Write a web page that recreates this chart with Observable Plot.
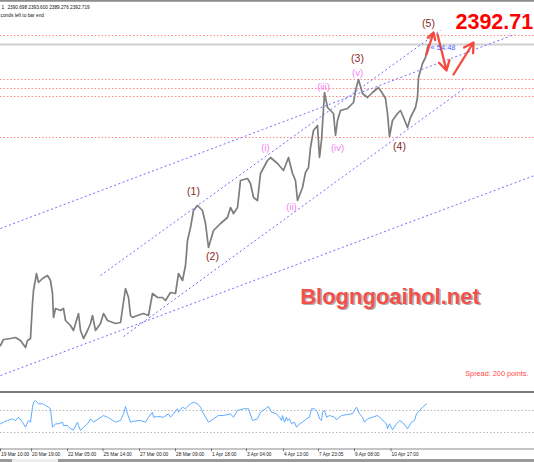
<!DOCTYPE html>
<html><head><meta charset="utf-8">
<script src="https://cdn.jsdelivr.net/npm/d3@7"></script>
<script src="https://cdn.jsdelivr.net/npm/@observablehq/plot@0.6"></script>
<style>
body{margin:0;background:#fff;}
#wrap{position:relative;width:534px;height:462px;overflow:hidden;background:#fff;font-family:"Liberation Sans",Arial,sans-serif;}
#main{position:absolute;left:0;top:0;}
#ind{position:absolute;left:0;top:393px;}
#sep{position:absolute;left:0;top:391px;width:534px;height:2px;background:#7a7a7a;}
#bot{position:absolute;left:0;top:459px;width:534px;height:3px;background:#9a9a9a;}
#tab{position:absolute;left:12px;top:459px;width:46px;height:3px;background:#ececec;}
svg{display:block;overflow:visible;}
</style></head>
<body>
<div id="wrap"><div id="main"></div><div id="sep"></div><div id="ind"></div><div id="bot"></div><div id="tab"></div></div>
<script>
// ---- price series (H1 bars, bar index / price) ----
const priceBars = [0,3,10,15,20,25,27,30,32,33,36,38,42,47,50,52,53,55,60,63,65,70,73,78,80,83,87,90,92,95,100,103,107,115,120,125,128,130,132,137,143,148,152,157,162,165,170,175,178,182,185,187,190,193,197,202,205,208,213,220,227,230,233,237,240,247,250,253,257,260,267,270,277,283,288,292,295,297,302,305,308,310,313,317,319,321,324,327,333,335,337,340,347,353,355,358,362,367,372,378,382,385,387,389,392,397,400,403,407,410,415,417,418,422,425,427,428];
const priceValues = [2152.0,2156.8,2157.6,2158.4,2156.0,2150.4,2156.0,2157.6,2185.6,2196.0,2209.6,2202.4,2205.6,2208.0,2204.0,2193.6,2174.4,2181.6,2180.0,2181.6,2172.0,2168.0,2164.0,2177.6,2164.0,2157.6,2164.0,2169.6,2176.0,2164.0,2169.6,2177.6,2172.0,2169.6,2170.4,2197.6,2190.4,2176.0,2174.4,2176.0,2177.6,2176.0,2193.6,2190.4,2190.4,2188.0,2194.4,2193.6,2209.6,2204.0,2216.0,2236.0,2246.4,2260.0,2264.0,2260.0,2249.6,2230.4,2244.0,2249.6,2254.4,2262.4,2257.6,2262.4,2284.0,2285.6,2281.6,2270.4,2268.0,2289.6,2300.0,2302.4,2297.6,2292.0,2302.4,2289.6,2284.0,2268.0,2278.4,2290.4,2294.4,2310.4,2324.0,2328.0,2302.4,2316.0,2354.4,2342.4,2337.6,2320.0,2332.0,2340.0,2341.6,2346.4,2356.0,2364.8,2353.6,2350.4,2354.4,2358.4,2353.6,2349.6,2337.6,2319.2,2332.0,2337.6,2340.0,2334.4,2326.4,2334.4,2342.4,2350.4,2366.4,2377.6,2382.4,2390.4,2392.8];
const bidPrice = 2392.72;
const levelPrices = [2400.0, 2364.8, 2357.6, 2351.2, 2318.4];

// ---- channel lines ----
const chStartBar = [0, 100, 123, 0];
const chStartPrice = [2245.6, 2208.0, 2159.2, 2128.0];
const chEndBar = [514, 440, 465, 534];
const chEndPrice = [2400.8, 2404.0, 2358.4, 2288.0];

// ---- wave labels ----
const waveText = ["(1)","(2)","(3)","(4)","(5)"];
const waveBar = [193,212,357,399,428];
const wavePrice = [2275.2,2223.2,2381.6,2311.2,2409.6];
const subText = ["(i)","(ii)","(iii)","(iv)","(v)"];
const subBar = [265,291,323,337,357];
const subPrice = [2310.4,2263.2,2359.2,2310.4,2370.4];

// ---- projected path arrows ----
const arrFromBar = [426,437,453];
const arrFromPrice = [2384.8,2400.8,2368.8];
const arrToBar = [433,446,473];
const arrToPrice = [2402.4,2372.0,2394.4];

// ---- oscillator ----
const rsiBars = [0,3,7,12,15,18,22,25,28,30,32,33,35,38,42,45,48,50,52,55,58,62,63,67,70,73,77,78,80,83,87,90,93,98,103,107,110,115,120,123,125,127,130,133,140,145,148,152,153,157,163,168,170,173,177,178,182,185,190,193,197,200,203,208,213,218,223,230,233,237,243,248,252,257,260,265,268,271,276,279,281,282,284,286,287,289,291,294,296,299,302,306,309,311,314,317,319,321,322,324,326,329,334,336,341,347,352,356,359,362,364,367,372,377,381,384,386,387,389,392,396,399,402,406,407,411,414,416,419,422,426];
const rsiValues = [45.8,48.7,51.8,54.9,51.8,57.8,48.7,39.6,51.8,48.7,76,85.1,88.2,82.2,82.2,79.1,76,73.1,39.6,45.8,45.8,48.7,42.7,42.7,36.7,34.9,48.7,42.7,33.6,39.6,45.8,54.9,48.7,54.9,60.9,57.8,54.9,48.7,51.8,64,77.3,64,48.7,50.5,51.8,48.7,57.8,66.9,57.8,59.1,57.8,64,57.8,64,73.1,66.9,76,73.1,82.2,85.1,82.2,76,64,48.7,54.9,60.9,60.9,64,57.8,70,73.1,73.1,51.8,54.9,66.9,73.1,77.3,66.9,64,57.8,51.8,60.9,48.7,57.8,51.8,54.9,45.8,48.7,39.6,45.8,48.7,54.9,57.8,73.1,73.1,66.9,54.9,51.8,66.9,70,57.8,60.9,57.8,53.1,60.9,62.7,64,76,64,57.8,48.7,54.9,57.8,60.9,54.9,48.7,45.8,36.7,45.8,34.9,45.8,51.8,48.7,39.6,36.7,48.7,51.8,64,70,76,82.2];
const rsiLevels = [70, 30];

// ---- time axis ----
const tickBars = [0,31,67,102.5,139,175,211,246,283,318,354,390.5];
const tickLabels = ["19 Mar 10:00","20 Mar 19:00","22 Mar 05:00","25 Mar 14:00","27 Mar 00:00","28 Mar 09:00","1 Apr 18:00","3 Apr 04:00","4 Apr 13:00","7 Apr 23:05","9 Apr 08:00","10 Apr 17:00"];

// ---- texts ----
const ohlcText = "2390.698 2393.600 2389.276 2392.719";
const barEndText = "conds left to bar end";
const bigPriceText = "2392.71";
const timerText = "« 54:48";
const watermarkText = "Blogngoaihol.net";
const spreadText = "Spread: 200 points.";

const FONT = "Liberation Sans, Arial, sans-serif";
const channels = chStartBar.map((b,i)=>({b1:b,p1:chStartPrice[i],b2:chEndBar[i],p2:chEndPrice[i]}));
const arrows = arrFromBar.map((b,i)=>({b1:b,p1:arrFromPrice[i],b2:arrToBar[i],p2:arrToPrice[i]}));

const main = Plot.plot({
  width:534, height:392, margin:0,
  x:{domain:[0,534], axis:null},
  y:{domain:[2114.4,2428], axis:null},
  style:{background:"transparent", fontFamily:FONT, overflow:"visible"},
  marks:[
    Plot.ruleY([2428],{stroke:"#8c8c8c",strokeWidth:2.5}),
    Plot.ruleY(levelPrices,{stroke:"#ff8a8a",strokeWidth:1,strokeDasharray:"1.5,2"}),
    Plot.ruleY([bidPrice],{stroke:"#cfcfcf",strokeWidth:2}),
    Plot.link(channels,{x1:"b1",y1:"p1",x2:"b2",y2:"p2",stroke:"#6e6eff",strokeWidth:1,strokeDasharray:"2,2.5"}),
    Plot.line(priceBars,{x:d=>d,y:(d,i)=>priceValues[i],stroke:"#7d7d7d",strokeWidth:1.7}),
    Plot.text(waveText,{x:(d,i)=>waveBar[i],y:(d,i)=>wavePrice[i],text:d=>d,fill:"#8b1f1f",fontSize:10.5}),
    Plot.text(subText,{x:(d,i)=>subBar[i],y:(d,i)=>subPrice[i],text:d=>d,fill:"#f57cf5",fontSize:9.5}),
    Plot.arrow(arrows,{x1:"b1",y1:"p1",x2:"b2",y2:"p2",stroke:"#f54a3e",strokeWidth:2.3,headLength:7}),
    Plot.text([timerText],{x:430,y:bidPrice,text:d=>d,textAnchor:"start",dy:3,fill:"#4a5cff",fontSize:7.5}),
    Plot.text(["1"],{frameAnchor:"top-left",dx:1,dy:5,text:d=>d,textAnchor:"start",fontSize:4.8,fill:"#111"}),
    Plot.text([ohlcText],{frameAnchor:"top-left",dx:7,dy:5,text:d=>d,textAnchor:"start",fontSize:4.7,fill:"#111"}),
    Plot.text([barEndText],{frameAnchor:"top-left",dx:0,dy:13.3,text:d=>d,textAnchor:"start",fontSize:4.8,fill:"#111"}),
    Plot.text([bigPriceText],{frameAnchor:"top-left",dx:455,dy:13.5,text:d=>d,textAnchor:"start",fontSize:21.5,fontWeight:"bold",fill:"#ff0000"}),
    Plot.text([watermarkText],{frameAnchor:"top-left",dx:391,dy:289,text:d=>d,textAnchor:"middle",fontSize:22,fontWeight:"bold",fill:"#8a8a8a",fillOpacity:0.7}),
    Plot.text([watermarkText],{frameAnchor:"top-left",dx:389.5,dy:287.5,text:d=>d,textAnchor:"middle",fontSize:22,fontWeight:"bold",fill:"#f2504a"}),
    Plot.text([spreadText],{frameAnchor:"top-left",dx:528,dy:370,text:d=>d,textAnchor:"end",fontSize:7.3,fill:"#ff4a4a"})
  ]
});
document.getElementById("main").appendChild(main);

const ind = Plot.plot({
  width:534, height:69, marginTop:0.5, marginBottom:13.5, marginLeft:0, marginRight:0,
  x:{domain:[0,534], axis:null},
  y:{domain:[0,100], axis:null},
  style:{background:"transparent", fontFamily:FONT, overflow:"visible"},
  marks:[
    Plot.ruleY(rsiLevels,{stroke:"#b8b8b8",strokeWidth:1,strokeDasharray:"1.5,2"}),
    Plot.line(rsiBars,{x:d=>d,y:(d,i)=>rsiValues[i],stroke:"#5eabff",strokeWidth:1}),
    Plot.ruleY([0],{stroke:"#8a8a8a",strokeWidth:1}),
    Plot.ruleX(tickBars,{x:d=>d,y1:0,y2:-5,stroke:"#555",strokeWidth:0.8}),
    Plot.text(tickBars,{x:d=>d,y:-10,text:(d,i)=>tickLabels[i],textAnchor:"start",dx:0.5,fontSize:4.8,fill:"#222"})
  ]
});
document.getElementById("ind").appendChild(ind);
</script>
</body></html>
